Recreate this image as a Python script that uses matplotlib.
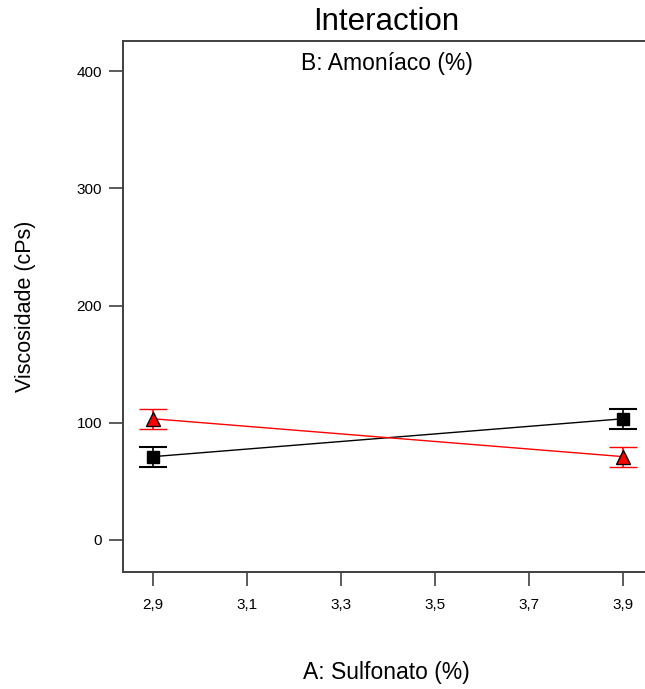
import numpy as np
import matplotlib.pyplot as plt

plt.rcParams['font.family'] = ['Liberation Sans', 'DejaVu Sans']

# factor levels of A (Sulfonato) and predicted viscosity at the two B levels
sulfonato = [2.9, 3.9]
amoniaco_low = [71.1, 103.4]    # black squares
amoniaco_high = [103.4, 71.1]   # red triangles
err_low = [8.5, 8.5]
err_high = [8.5, 8.5]

xticks = [2.9, 3.1, 3.3, 3.5, 3.7, 3.9]
xtick_labels = ['2,9', '3,1', '3,3', '3,5', '3,7', '3,9']
yticks = [0, 100, 200, 300, 400]

fig = plt.figure(figsize=(6.45, 6.89), dpi=100)
ax = fig.add_axes([123 / 645, 117 / 689, 527 / 645, 531 / 689])

ax.errorbar(sulfonato, amoniaco_low, yerr=err_low, color='black', lw=1,
            marker='s', ms=9, mfc='black', mec='black',
            ecolor='black', elinewidth=1.2, capsize=10, capthick=1.5)
ax.errorbar(sulfonato, amoniaco_high, yerr=err_high, color='red', lw=1,
            marker='^', ms=10, mfc='red', mec='black', mew=1,
            ecolor='red', elinewidth=1.2, capsize=10, capthick=1.5)

ax.set_xlim(2.836, 3.957)
ax.set_ylim(-27.3, 425.6)
ax.set_xticks(xticks)
ax.set_xticklabels(xtick_labels)
ax.set_yticks(yticks)

for side in ['left', 'bottom', 'top']:
    ax.spines[side].set_color('#404040')
    ax.spines[side].set_linewidth(1.4)
ax.spines['right'].set_visible(False)

ax.tick_params(axis='both', direction='out', length=10, width=1.2,
               color='#404040', labelsize=11, pad=5)
ax.tick_params(axis='x', pad=9)

ax.text(0.5, 0.98, 'B: Amoníaco (%)', transform=ax.transAxes,
        ha='center', va='top', fontsize=16.5)

fig.text(386 / 645, 1 - 22 / 689, 'Interaction', ha='center', va='center', fontsize=22.5)
fig.text(386 / 645, 1 - 672 / 689, 'A: Sulfonato (%)', ha='center', va='center', fontsize=16.5)
fig.text(26 / 645, 1 - 306 / 689, 'Viscosidade (cPs)', ha='center', va='center',
         rotation=90, fontsize=15.5)

fig.savefig('out.png', dpi=100)
